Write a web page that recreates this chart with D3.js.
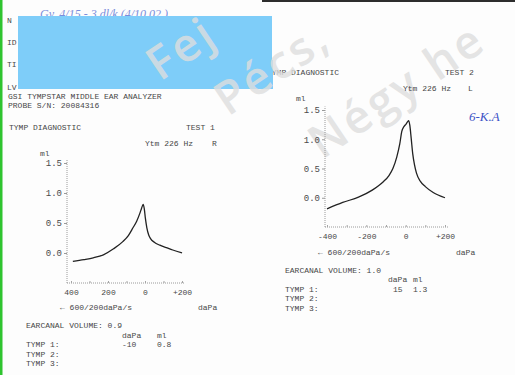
<!DOCTYPE html>
<html>
<head>
<meta charset="utf-8">
<script src="https://cdn.jsdelivr.net/npm/d3@7"></script>
<style>
  body { margin: 0; background: #fff; }
  svg { display: block; }
  .mono { font-family: "Liberation Mono", "DejaVu Sans Mono", monospace; font-size: 8px; fill: #474747; }
  .ylab { font-family: "Liberation Mono", "DejaVu Sans Mono", monospace; font-size: 9px; fill: #4a4a4a; }
</style>
</head>
<body>
<svg id="chart"></svg>
<script>
// tick values / labels
const pressureTicks = [-400, -200, 0, 200];
const minorPressureTicks = [-400, -300, -200, -100, 0, 100, 200];
const test1TickLabels = ["400", "200", "0", "+200"];
const test2TickLabels = ["-400", "-200", "0", "+200"];
const mlTicks = [0, 0.5, 1.0, 1.5];

// test 1 (R) curve
const test1Pressure = [-390, -330, -280, -225, -170, -120, -90, -65, -45, -28, -18, -10, -4, 2, 10, 20, 30, 50, 80, 115, 150, 200];
const test1Ml =       [-0.14, -0.11, -0.08, -0.03, 0.07, 0.19, 0.29, 0.42, 0.53, 0.66, 0.75, 0.81, 0.74, 0.58, 0.42, 0.3, 0.24, 0.18, 0.13, 0.09, 0.05, 0.0];

// test 2 (L) curve
const test2Pressure = [-400, -320, -240, -170, -115, -85, -65, -45, -30, -20, -8, 2, 10, 15, 21, 28, 36, 45, 55, 75, 100, 140, 200];
const test2Ml =       [-0.19, -0.08, 0.01, 0.13, 0.27, 0.38, 0.5, 0.7, 0.92, 1.13, 1.22, 1.26, 1.3, 1.32, 1.24, 1.02, 0.75, 0.56, 0.42, 0.28, 0.19, 0.09, 0.0];

// tymp results
const tympRows = ["TYMP 1:", "TYMP 2:", "TYMP 3:"];
const test1Result = ["-10", "0.8"];
const test2Result = ["15", "1.3"];
const earcanal = ["0.9", "1.0"];

const width = 515, height = 375;
const svg = d3.select("#chart").attr("width", width).attr("height", height);

svg.append("rect").attr("width", width).attr("height", height).attr("fill", "#fdfdfd");

function txt(x, y, s, anchor) {
  svg.append("text").attr("class", "mono")
    .attr("x", x).attr("y", y)
    .attr("text-anchor", anchor || "start")
    .text(s);
}

// scan edges
svg.append("rect").attr("x", 0).attr("y", 0).attr("width", 2.5).attr("height", height).attr("fill", "#2fc42f");
svg.append("rect").attr("x", 262).attr("y", 0).attr("width", width - 262).attr("height", 2).attr("fill", "#2d2d2d");

// handwriting at the top, mostly under the blue box
svg.append("text")
  .attr("x", 40).attr("y", 18)
  .attr("font-family", "Liberation Serif").attr("font-style", "italic").attr("font-size", 12)
  .attr("fill", "#5a72d4").attr("opacity", 0.8)
  .text("Gy. 4/15 - 3 dl/k        (4/10.02.)");

// header of test 2 starts under the redaction box
txt(267, 75, "TYMP DIAGNOSTIC");

// redaction box
svg.append("rect").attr("x", 18).attr("y", 16).attr("width", 254).attr("height", 73).attr("fill", "#7ecdf9");
svg.append("rect").attr("x", 240).attr("y", 60).attr("width", 33).attr("height", 29).attr("fill", "#7ecdf9");

// watermark
const wm = [["Fej", 160, 82], ["Pécs,", 228, 117], ["Négy he", 322, 160]];
wm.forEach(([t, x, y]) => {
  svg.append("text")
    .attr("transform", `translate(${x},${y}) rotate(-34)`)
    .attr("font-family", "Open Sans").attr("font-size", 46).attr("font-weight", 600)
    .attr("letter-spacing", 3)
    .attr("fill", "#dedede").attr("opacity", 0.8)
    .text(t);
});

// left side header
txt(7, 23, "N");
txt(7, 45, "ID");
txt(7, 67, "TI");
txt(7, 90, "LV");
txt(8, 99, "GSI TYMPSTAR MIDDLE EAR ANALYZER");
txt(8, 108, "PROBE S/N: 20084316");

function drawTest(opt) {
  const x = d3.scaleLinear().domain([-400, 200]).range(opt.xRange);
  const y = d3.scaleLinear().domain([-0.5, 1.5]).range(opt.yRange);
  const g = svg.append("g");

  // y axis
  g.append("g")
    .attr("transform", `translate(${opt.axisX},0)`)
    .call(d3.axisLeft(y).tickValues(mlTicks).tickSize(3).tickPadding(2).tickFormat(d3.format(".1f")))
    .call(a => a.select(".domain").attr("d", `M0,${y(-0.5)}V${y(1.56)}`)
      .attr("stroke", "#9a9a9a").attr("stroke-dasharray", "1,1"))
    .call(a => a.selectAll(".tick line").attr("stroke", "#9a9a9a"))
    .call(a => a.selectAll(".tick text").attr("class", "ylab").attr("font-size", null).attr("font-family", null));

  // x axis
  const labelOf = d => {
    const i = pressureTicks.indexOf(d);
    return i < 0 ? "" : opt.tickLabels[i];
  };
  g.append("g")
    .attr("transform", `translate(0,${y(-0.5)})`)
    .call(d3.axisBottom(x).tickValues(minorPressureTicks).tickSize(-2).tickPadding(6).tickFormat(labelOf))
    .call(a => a.select(".domain").attr("d", `M${opt.axisX},0H${x(215)}`)
      .attr("stroke", "#9a9a9a").attr("stroke-dasharray", "1,1"))
    .call(a => a.selectAll(".tick line").attr("stroke", "#a5a5a5"))
    .call(a => a.selectAll(".tick text").attr("class", "mono").attr("font-size", null).attr("font-family", null));

  const pts = opt.pressure.map((p, i) => [p, opt.ml[i]]);
  const line = d3.line().x(d => x(d[0])).y(d => y(d[1])).curve(d3.curveMonotoneX);
  g.append("path").datum(pts)
    .attr("d", line)
    .attr("fill", "none")
    .attr("stroke", "#222")
    .attr("stroke-width", 1.3);
}

// test 1
txt(9, 130, "TYMP DIAGNOSTIC");
txt(186, 130, "TEST 1");
txt(145, 146, "Ytm 226 Hz");
txt(212, 146, "R");
txt(40, 156, "ml");
drawTest({ xRange: [71, 182], yRange: [283, 163], axisX: 67, tickLabels: test1TickLabels, pressure: test1Pressure, ml: test1Ml });
txt(60, 310, "\u2190 600/200daPa/s");
txt(198, 310, "daPa");
txt(26, 328, "EARCANAL VOLUME: " + earcanal[0]);
txt(122, 338, "daPa");
txt(157, 338, "ml");
tympRows.forEach((r, i) => txt(26, 347 + i * 9.5, r));
txt(122, 347, test1Result[0]);
txt(157, 347, test1Result[1]);

// test 2
txt(445, 75, "TEST 2");
txt(403, 91, "Ytm 226 Hz");
txt(468, 91, "L");
txt(296, 101, "ml");
drawTest({ xRange: [327, 445], yRange: [227, 110], axisX: 325, tickLabels: test2TickLabels, pressure: test2Pressure, ml: test2Ml });
txt(318, 255, "\u2190 600/200daPa/s");
txt(456, 255, "daPa");
txt(285, 273, "EARCANAL VOLUME: " + earcanal[1]);
txt(388, 282, "daPa");
txt(413, 282, "ml");
tympRows.forEach((r, i) => txt(285, 292 + i * 9.3, r));
txt(393, 292, test2Result[0]);
txt(413, 292, test2Result[1]);

// handwritten note
svg.append("text")
  .attr("x", 469).attr("y", 121)
  .attr("font-family", "Liberation Serif").attr("font-style", "italic").attr("font-size", 13)
  .attr("fill", "#3d54c6")
  .text("6-K.A");
</script>
</body>
</html>
